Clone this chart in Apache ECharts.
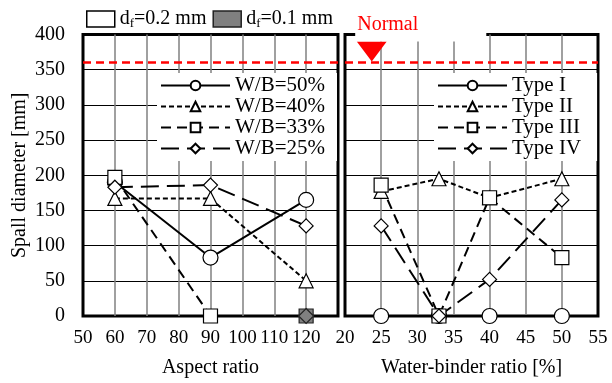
<!DOCTYPE html>
<html>
<head>
<meta charset="utf-8">
<script src="https://cdn.jsdelivr.net/npm/echarts@6/dist/echarts.min.js"></script>
<style>
  html, body { margin: 0; background: #fff; }
  #chart { width: 612px; height: 383px; }
</style>
</head>
<body>
<div id="chart"></div>
<script>
// left panel: aspect ratio
const aspectRatio = [60, 90, 120];
const wb50 = [190, 83, 165];
const wb40 = [167, 167, 50];
const wb33 = [197, 0, null];
const wb25 = [183, 186, 128];
// d_f = 0.1 mm specimens (grey)
const thinFiberX = [120];
const thinFiberY = [0];

// right panel: water-binder ratio
const wbRatio = [25, 33, 40, 50];
const typeI = [0, 0, 0, 0];
const typeII = [177, 195, 168, 195];
const typeIII = [186, 0, 168, 83];
const typeIV = [128, 0, 52, 165];

// normal-concrete reference
const normalLimit = 360;
const normalMarkX = [23.7];
const normalMarkY = [376];

const yTicks = [0, 50, 100, 150, 200, 250, 300, 350, 400];
const leftTicks = [50, 60, 70, 80, 90, 100, 110, 120];
const rightTicks = [20, 25, 30, 35, 40, 45, 50, 55];

const FONT = 'Liberation Serif';
const SHORT = [5, 3];
const MEDIUM = [10, 6];
const LONG = [18, 8];

const pair = (xs, ys) => xs.map((x, i) => [x, ys[i]]);

const redLine = {
  silent: true,
  symbol: ['none', 'none'],
  label: { show: false },
  lineStyle: { color: '#ff0000', type: [8, 5], width: 2.5 },
  data: [{ yAxis: normalLimit }],
};

function lineSeries(name, xs, ys, symbol, dash, panel, extra) {
  return Object.assign({
    name: name,
    type: 'line',
    xAxisIndex: panel,
    yAxisIndex: panel,
    data: pair(xs, ys),
    symbol: symbol,
    symbolSize: symbol === 'circle' ? 15 : 14,
    showAllSymbol: true,
    clip: false,
    lineStyle: { color: '#000', width: 2, type: dash },
    itemStyle: { color: '#fff', borderColor: '#000', borderWidth: 1.2 },
    emphasis: { disabled: true },
  }, extra || {});
}

const chart = echarts.init(document.getElementById('chart'));

const xAxisBase = {
  type: 'value',
  axisLine: { show: false },
  axisTick: { show: false },
  axisLabel: { fontFamily: FONT, fontSize: 19, color: '#000', margin: 13 },
  splitLine: { show: true, showMinLine: false, showMaxLine: false, lineStyle: { color: '#808080', width: 1.5 } },
  nameLocation: 'middle',
  nameGap: 42,
  nameTextStyle: { fontFamily: FONT, fontSize: 20, color: '#000' },
};

const yAxisBase = {
  type: 'value',
  min: yTicks[0],
  max: yTicks[yTicks.length - 1],
  interval: 50,
  axisLine: { show: false },
  axisTick: { show: false },
  splitLine: { show: true, showMinLine: false, showMaxLine: false, lineStyle: { color: '#000', width: 1 } },
};

const lineLegend = {
  orient: 'vertical',
  top: 73,
  padding: [2, 12, 2, 3],
  itemGap: 0,
  itemWidth: 69,
  itemHeight: 12,
  backgroundColor: '#fff',
  selectedMode: false,
  textStyle: { fontFamily: FONT, fontSize: 21, color: '#000', lineHeight: 21 },
};

chart.setOption({
  animation: false,
  grid: [
    { left: 83, top: 34.5, width: 255, height: 283.5, show: true, borderColor: '#000', borderWidth: 3, backgroundColor: 'transparent' },
    { left: 345, top: 34.5, width: 253, height: 283.5, show: true, borderColor: '#000', borderWidth: 3, backgroundColor: 'transparent' },
  ],
  xAxis: [
    Object.assign({}, xAxisBase, {
      gridIndex: 0, min: 50, max: 130, interval: 10, name: 'Aspect ratio',
      axisLabel: Object.assign({}, xAxisBase.axisLabel, {
        formatter: v => (leftTicks.indexOf(v) >= 0 ? String(v) : ''),
      }),
    }),
    Object.assign({}, xAxisBase, {
      gridIndex: 1, min: 20, max: 55, interval: 5, name: 'Water-binder ratio [%]',
      axisLabel: Object.assign({}, xAxisBase.axisLabel, {
        formatter: v => (rightTicks.indexOf(v) >= 0 ? String(v) : ''),
      }),
    }),
  ],
  yAxis: [
    Object.assign({}, yAxisBase, {
      gridIndex: 0,
      name: 'Spall diameter [mm]',
      nameLocation: 'middle',
      nameGap: 53,
      nameTextStyle: { fontFamily: FONT, fontSize: 20, color: '#000' },
      axisLabel: { fontFamily: FONT, fontSize: 20, color: '#000', margin: 18 },
    }),
    Object.assign({}, yAxisBase, { gridIndex: 1, axisLabel: { show: false } }),
  ],
  legend: [
    {
      left: 86,
      top: 9,
      padding: 0,
      itemWidth: 28,
      itemHeight: 16,
      itemGap: 6,
      selectedMode: false,
      formatter: name => name.replace('_f', '{s|f}'),
      textStyle: {
        fontFamily: FONT, fontSize: 20, color: '#000',
        rich: { s: { fontFamily: FONT, fontSize: 13, color: '#000', padding: [9, 0, 0, 0] } },
      },
      data: [
        { name: 'd_f=0.2 mm', icon: 'rect', itemStyle: { color: '#fff', borderColor: '#000', borderWidth: 1.5, opacity: 1 } },
        { name: 'd_f=0.1 mm', icon: 'rect', itemStyle: { color: '#808080', borderColor: '#222', borderWidth: 1.5, opacity: 1 } },
      ],
    },
    Object.assign({}, lineLegend, {
      left: 157,
      data: ['W/B=50%', 'W/B=40%', 'W/B=33%', 'W/B=25%'],
    }),
    Object.assign({}, lineLegend, {
      left: 434,
      padding: [2, 16, 2, 3],
      data: ['Type I', 'Type II', 'Type III', 'Type IV'],
    }),
  ],
  series: [
    lineSeries('W/B=50%', aspectRatio, wb50, 'circle', 'solid', 0, { markLine: redLine }),
    lineSeries('W/B=40%', aspectRatio, wb40, 'triangle', SHORT, 0),
    lineSeries('W/B=33%', aspectRatio, wb33, 'rect', MEDIUM, 0),
    lineSeries('W/B=25%', aspectRatio, wb25, 'diamond', LONG, 0),
    { name: 'd_f=0.2 mm', type: 'scatter', xAxisIndex: 0, yAxisIndex: 0, data: [] },
    {
      name: 'd_f=0.1 mm', type: 'scatter', xAxisIndex: 0, yAxisIndex: 0,
      data: pair(thinFiberX, thinFiberY), symbol: 'rect', symbolSize: 14, clip: false,
      itemStyle: { color: '#808080', borderColor: '#222', borderWidth: 1.2, opacity: 1 },
    },
    {
      name: 'd_f=0.1 mm', type: 'scatter', xAxisIndex: 0, yAxisIndex: 0,
      data: pair(thinFiberX, thinFiberY), symbol: 'diamond', symbolSize: 15, clip: false,
      itemStyle: { color: '#808080', borderColor: '#222', borderWidth: 1.2, opacity: 1 },
    },
    lineSeries('Type I', wbRatio, typeI, 'circle', 'solid', 1, { markLine: redLine }),
    lineSeries('Type II', wbRatio, typeII, 'triangle', SHORT, 1),
    lineSeries('Type III', wbRatio, typeIII, 'rect', MEDIUM, 1),
    lineSeries('Type IV', wbRatio, typeIV, 'diamond', LONG, 1),
    {
      name: 'Normal', type: 'scatter', xAxisIndex: 1, yAxisIndex: 1, z: 120,
      data: pair(normalMarkX, normalMarkY),
      symbol: 'triangle', symbolRotate: 180, symbolSize: [30, 20], clip: false,
      itemStyle: { color: '#ff0000', opacity: 1 },
      // white label box also opens the frame gap seen in the reference
      label: {
        show: true, position: 'top', distance: 0, offset: [49, 0],
        backgroundColor: '#fff', padding: [0, 68, 7, 2],
        formatter: 'Normal', fontFamily: FONT, fontSize: 20, color: '#ff0000',
      },
    },
  ],
});
</script>
</body>
</html>
